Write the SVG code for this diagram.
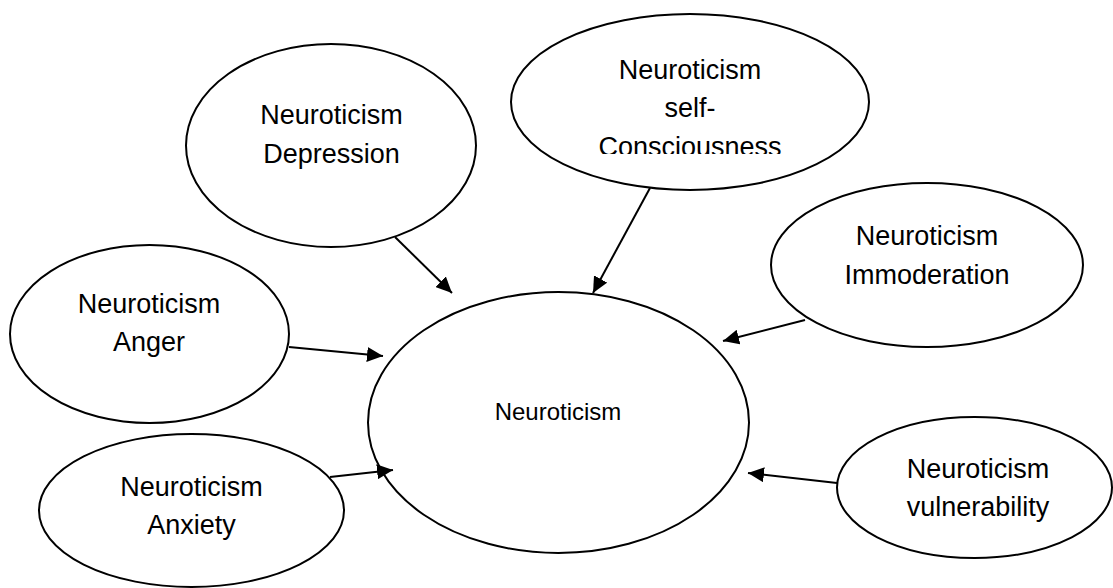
<svg xmlns="http://www.w3.org/2000/svg" width="1113" height="588" viewBox="0 0 1113 588">
<style>
.node ellipse{fill:#fff;stroke:#000;stroke-width:2}
.node text{font-family:"Liberation Sans",Arial,sans-serif;font-size:27px;fill:#000;text-anchor:middle}
#n-main text{font-size:24px}
.conn line{stroke:#000;stroke-width:2;marker-end:url(#arr)}
</style>
<defs>
<marker id="arr" markerUnits="userSpaceOnUse" markerWidth="17" markerHeight="15" refX="16" refY="7.5" orient="auto">
<path d="M0,0 L16,7.5 L0,15 z" fill="#000"/>
</marker>
<clipPath id="clipSelf"><rect x="500" y="0" width="380" height="154"/></clipPath>
</defs>
<rect width="1113" height="588" fill="#fff"/>
<g id="n-depression" class="node">
<ellipse cx="331" cy="145.5" rx="145" ry="101.5"/>
<text x="331.5" y="124">Neuroticism</text>
<text x="331.5" y="163">Depression</text>
</g>
<g id="n-self" class="node">
<ellipse cx="690" cy="102" rx="179" ry="88"/>
<g clip-path="url(#clipSelf)">
<text x="690" y="79">Neuroticism</text>
<text x="690" y="117">self-</text>
<text x="690" y="156">Consciousness</text>
</g>
</g>
<g id="n-immoderation" class="node">
<ellipse cx="927" cy="265" rx="156" ry="82"/>
<text x="927" y="245">Neuroticism</text>
<text x="927" y="284">Immoderation</text>
</g>
<g id="n-anger" class="node">
<ellipse cx="149.5" cy="334" rx="139.5" ry="89"/>
<text x="149" y="313">Neuroticism</text>
<text x="149" y="351">Anger</text>
</g>
<g id="n-main" class="node">
<ellipse cx="558.5" cy="422.5" rx="190.5" ry="130.5"/>
<text x="558" y="420">Neuroticism</text>
</g>
<g id="n-anxiety" class="node">
<ellipse cx="191.5" cy="510.5" rx="152.5" ry="76.5"/>
<text x="191.5" y="496">Neuroticism</text>
<text x="191.5" y="534">Anxiety</text>
</g>
<g id="n-vulnerability" class="node">
<ellipse cx="974.5" cy="487.5" rx="137.5" ry="70.5"/>
<text x="978" y="478">Neuroticism</text>
<text x="978" y="516">vulnerability</text>
</g>
<g id="connectors" class="conn">
<line x1="395" y1="237" x2="452" y2="293"/>
<line x1="650" y1="188" x2="593" y2="293"/>
<line x1="805" y1="320" x2="723" y2="341"/>
<line x1="289" y1="347" x2="383" y2="356"/>
<line x1="330" y1="477" x2="393" y2="470"/>
<line x1="837" y1="483" x2="748" y2="473"/>
</g>
</svg>
